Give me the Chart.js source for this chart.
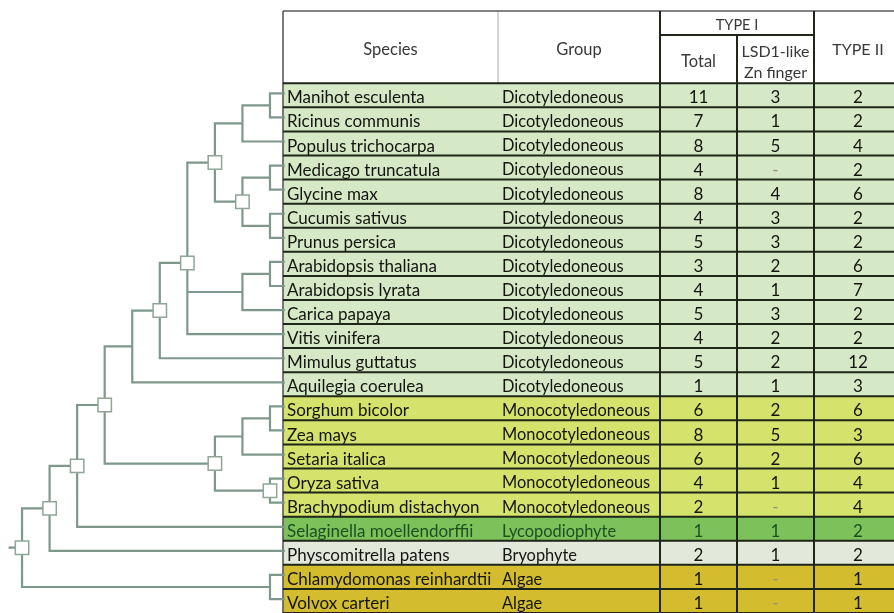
<!DOCTYPE html>
<html lang="en">
<head>
<meta charset="UTF-8">
<title>LSD1 proteins - species tree</title>
<script src="https://cdn.jsdelivr.net/npm/chart.js@4.4.0/dist/chart.umd.min.js"></script>
<style>
  html, body { margin: 0; padding: 0; background: #fff; }
  #wrap { width: 894px; height: 613px; position: relative; }
</style>
</head>
<body>
<div id="wrap"><canvas id="chart"></canvas></div>
<script>
const species = ['Manihot esculenta', 'Ricinus communis', 'Populus trichocarpa', 'Medicago truncatula',
  'Glycine max', 'Cucumis sativus', 'Prunus persica', 'Arabidopsis thaliana', 'Arabidopsis lyrata',
  'Carica papaya', 'Vitis vinifera', 'Mimulus guttatus', 'Aquilegia coerulea', 'Sorghum bicolor',
  'Zea mays', 'Setaria italica', 'Oryza sativa', 'Brachypodium distachyon', 'Selaginella moellendorffii',
  'Physcomitrella patens', 'Chlamydomonas reinhardtii', 'Volvox carteri'];
const groups = ['Dicotyledoneous', 'Dicotyledoneous', 'Dicotyledoneous', 'Dicotyledoneous', 'Dicotyledoneous',
  'Dicotyledoneous', 'Dicotyledoneous', 'Dicotyledoneous', 'Dicotyledoneous', 'Dicotyledoneous',
  'Dicotyledoneous', 'Dicotyledoneous', 'Dicotyledoneous', 'Monocotyledoneous', 'Monocotyledoneous',
  'Monocotyledoneous', 'Monocotyledoneous', 'Monocotyledoneous', 'Lycopodiophyte', 'Bryophyte', 'Algae', 'Algae'];
const typeITotal = [11, 7, 8, 4, 8, 4, 5, 3, 4, 5, 4, 5, 1, 6, 8, 6, 4, 2, 1, 2, 1, 1];
const typeILsd1 = [3, 1, 5, null, 4, 3, 3, 2, 1, 3, 2, 2, 1, 2, 5, 2, 1, null, 1, 1, null, null];
const typeII = [2, 2, 4, 2, 6, 2, 2, 6, 7, 2, 2, 12, 3, 6, 3, 6, 4, 4, 2, 2, 1, 1];

// cladogram: internal nodes get ids 22, 23, ... in this order
const cladeKids = [[0, 1], [22, 2], [3, 4], [5, 6], [24, 25], [23, 26], [7, 8], [28, 9], [27, 29, 10],
  [30, 11], [31, 12], [13, 14], [33, 15], [16, 17], [34, 35], [32, 36], [37, 18], [38, 19], [20, 21], [39, 40]];
const cladeLevel = [1, 2, 1, 1, 2, 3, 1, 2, 4, 5, 6, 1, 2, 1, 3, 7, 8, 9, 1, 10];
const cladeBox = [0, 0, 0, 0, 1, 1, 0, 0, 1, 1, 0, 0, 0, 1, 1, 1, 1, 1, 0, 1];

const groupColor = {
  Dicotyledoneous: '#d6e9c7',
  Monocotyledoneous: '#d5e26c',
  Lycopodiophyte: '#7cc15a',
  Bryophyte: '#e3e9da',
  Algae: '#d3bd2e'
};
const colEdge = [283, 498, 660, 737, 814, 902];
const treeColor = '#7f988c';
const gridColor = '#1f2619';

// tree geometry from topology
const nLeaf = species.length;
const nodeX = [], nodeY = [];
species.forEach((s, i) => { nodeX[i] = 0.5; nodeY[i] = i + 0.42; });
cladeKids.forEach((kids, k) => {
  const id = nLeaf + k;
  nodeX[id] = cladeLevel[k];
  nodeY[id] = kids.reduce((a, c) => a + nodeY[c], 0) / kids.length;
});
const treeLines = [];
const boxes = [];
cladeKids.forEach((kids, k) => {
  const id = nLeaf + k;
  const ys = kids.map(c => nodeY[c]);
  treeLines.push({x: nodeX[id], y: Math.min(...ys)}, {x: nodeX[id], y: Math.max(...ys)}, {x: nodeX[id], y: null});
  kids.forEach(c => {
    treeLines.push({x: nodeX[id], y: nodeY[c]}, {x: nodeX[c], y: nodeY[c]}, {x: nodeX[c], y: null});
  });
  if (cladeBox[k]) boxes.push({x: nodeX[id], y: nodeY[id]});
});
const root = nLeaf + cladeKids.length - 1;
treeLines.push({x: nodeX[root], y: nodeY[root]}, {x: nodeX[root] + 0.45, y: nodeY[root]});

// table rules
const darkRules = [];
const seg = (arr, x0, y0, x1, y1) => arr.push({x: x0, y: y0}, {x: x1, y: y1}, {x: x1, y: null});
for (let r = 0; r <= nLeaf; r++) seg(darkRules, colEdge[0], r, 894, r);
seg(darkRules, colEdge[2], -3, colEdge[2], nLeaf);
seg(darkRules, colEdge[3], -2, colEdge[3], nLeaf);
seg(darkRules, colEdge[4], -3, colEdge[4], nLeaf);
seg(darkRules, colEdge[2], -2, colEdge[4], -2);
const greyRules = [];
seg(greyRules, colEdge[0], -3, 894, -3);
seg(greyRules, colEdge[0], -3, colEdge[0], nLeaf);
const lightRules = [];
seg(lightRules, colEdge[1], -3, colEdge[1], 0);

const rowBars = species.map((s, i) => ({x: [colEdge[0], colEdge[5]], y: i + 0.5}));

const textPlugin = {
  id: 'tableText',
  afterDatasetsDraw(chart) {
    const {ctx, scales: {xc, y}} = chart;
    const put = (str, xv, yv, align, size, color) => {
      ctx.font = size + 'px Lato';
      ctx.fillStyle = color;
      ctx.textAlign = align;
      ctx.textBaseline = 'alphabetic';
      ctx.fillText(str, xc.getPixelForValue(xv), y.getPixelForValue(yv) + size * 0.36 + 2);
    };
    const mid = (a, b) => (colEdge[a] + colEdge[b]) / 2;
    ctx.save();
    const hc = '#383838';
    put('Species', mid(0, 1), -1.5, 'center', 16.5, hc);
    put('Group', mid(1, 2), -1.5, 'center', 16.5, hc);
    put('TYPE I', mid(2, 4), -2.5, 'center', 14.5, hc);
    put('Total', mid(2, 3), -1, 'center', 16.5, hc);
    put('LSD1-like', mid(3, 4), -1.4, 'center', 16, hc);
    put('Zn finger', mid(3, 4), -0.55, 'center', 16, hc);
    put('TYPE II', mid(4, 5), -1.5, 'center', 16, hc);
    species.forEach((s, i) => {
      const c = groups[i] === 'Lycopodiophyte' ? '#1d4f22' : '#141410';
      put(s, colEdge[0] + 4, i + 0.5, 'left', 17, c);
      put(groups[i], colEdge[1] + 4, i + 0.5, 'left', 16.4, c);
      put(String(typeITotal[i]), mid(2, 3), i + 0.5, 'center', 17, c);
      if (typeILsd1[i] === null) put('-', mid(3, 4), i + 0.5, 'center', 17, '#9a8f7a');
      else put(String(typeILsd1[i]), mid(3, 4), i + 0.5, 'center', 17, c);
      put(String(typeII[i]), mid(4, 5), i + 0.5, 'center', 17, c);
    });
    ctx.restore();
  }
};

new Chart(document.getElementById('chart'), {
  type: 'scatter',
  data: {
    datasets: [
      {
        type: 'scatter', data: boxes, xAxisID: 'xt', yAxisID: 'y', order: 0,
        pointStyle: 'rect', pointRadius: 9.5, backgroundColor: '#ffffff',
        borderColor: '#8ea697', borderWidth: 1.5, showLine: false
      },
      {
        type: 'scatter', data: treeLines, xAxisID: 'xt', yAxisID: 'y', order: 1,
        showLine: true, spanGaps: false, borderColor: treeColor, borderWidth: 2.2,
        pointRadius: 0, borderCapStyle: 'square'
      },
      {
        type: 'scatter', data: darkRules, xAxisID: 'xc', yAxisID: 'y', order: 2,
        showLine: true, spanGaps: false, borderColor: gridColor, borderWidth: 2, pointRadius: 0
      },
      {
        type: 'scatter', data: greyRules, xAxisID: 'xc', yAxisID: 'y', order: 2,
        showLine: true, spanGaps: false, borderColor: '#5a5a5a', borderWidth: 1.6, pointRadius: 0
      },
      {
        type: 'scatter', data: lightRules, xAxisID: 'xc', yAxisID: 'y', order: 2,
        showLine: true, spanGaps: false, borderColor: '#cfcfcf', borderWidth: 1, pointRadius: 0
      },
      {
        type: 'bar', indexAxis: 'y', data: rowBars, xAxisID: 'xc', yAxisID: 'y', order: 3,
        backgroundColor: groups.map(g => groupColor[g]), borderWidth: 0,
        barPercentage: 1, categoryPercentage: 1, grouped: false
      }
    ]
  },
  options: {
    responsive: true,
    maintainAspectRatio: false,
    animation: false,
    layout: { padding: 0, autoPadding: false },
    plugins: { legend: { display: false }, tooltip: { enabled: false } },
    scales: {
      xt: { type: 'linear', display: false, offset: false, reverse: true, min: -21.65, max: 10.8 },
      xc: { type: 'linear', display: false, offset: false, min: 0, max: 894 },
      y: { type: 'linear', display: false, offset: false, reverse: true, min: -3.457, max: 22 }
    }
  },
  plugins: [textPlugin]
});
</script>
</body>
</html>
